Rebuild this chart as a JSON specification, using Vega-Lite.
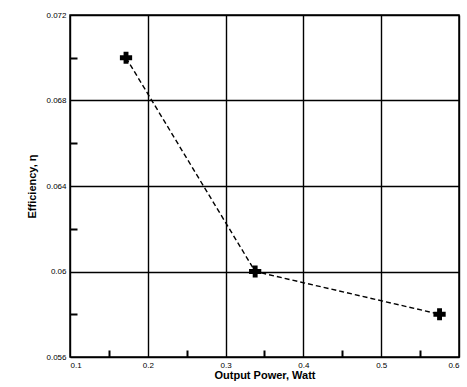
{
  "$schema": "https://vega.github.io/schema/vega-lite/v6.json",
  "autosize": "none",
  "padding": {"left": 70, "top": 15, "right": 8, "bottom": 30},
  "width": 389,
  "height": 342,
  "background": "white",
  "config": {
    "view": {"stroke": "black", "strokeWidth": 1.5},
    "font": "Liberation Sans"
  },
  "data": {"values": [
    {"power": 0.172, "eff": 0.070},
    {"power": 0.338, "eff": 0.060},
    {"power": 0.575, "eff": 0.058}
  ]},
  "encoding": {
    "x": {"field": "power", "type": "quantitative", "scale": {"domain": [0.1, 0.6], "nice": false, "zero": false}},
    "y": {"field": "eff", "type": "quantitative", "scale": {"domain": [0.056, 0.072], "nice": false, "zero": false}}
  },
  "layer": [
    {
      "mark": {"type": "line", "color": "black", "strokeDash": [5, 3], "strokeWidth": 1.4},
      "encoding": {
        "x": {"field": "power", "type": "quantitative", "axis": {
          "orient": "bottom",
          "values": [0.1, 0.2, 0.3, 0.4, 0.5, 0.6], "format": "~g", "grid": true, "gridColor": "black", "gridOpacity": 1, "gridWidth": 1.4,
          "domain": false, "ticks": false, "labelFontSize": 8, "labelColor": "black", "labelPadding": 4,
          "title": "Output Power, Watt", "titleFontSize": 11, "titleFontWeight": "bold", "titlePadding": 0, "titleColor": "black"
        }},
        "y": {"field": "eff", "type": "quantitative", "axis": {
          "orient": "left",
          "values": [0.056, 0.06, 0.064, 0.068, 0.072], "format": "~g", "grid": true, "gridColor": "black", "gridOpacity": 1, "gridWidth": 1.4,
          "domain": false, "ticks": false, "labelFontSize": 8, "labelColor": "black", "labelPadding": 4,
          "title": "Efficiency, η", "titleFontSize": 11, "titleFontWeight": "bold", "titlePadding": 8, "titleColor": "black"
        }}
      }
    },
    {
      "mark": {"type": "point", "shape": "cross", "filled": true, "color": "black", "size": 150, "opacity": 1},
      "encoding": {
        "x": {"field": "power", "type": "quantitative", "axis": {
          "orient": "bottom",
          "values": [0.15, 0.25, 0.35, 0.45, 0.55], "labels": false, "grid": false, "domain": false, "ticks": true, "tickSize": -7, "tickColor": "black", "tickOpacity": 1, "tickWidth": 2, "title": null
        }},
        "y": {"field": "eff", "type": "quantitative", "axis": {
          "orient": "left",
          "values": [0.058, 0.062, 0.066, 0.07], "labels": false, "grid": false, "domain": false, "ticks": true, "tickSize": -7, "tickColor": "black", "tickOpacity": 1, "tickWidth": 2, "title": null
        }}
      }
    }
  ],
  "resolve": {"axis": {"x": "independent", "y": "independent"}}
}
